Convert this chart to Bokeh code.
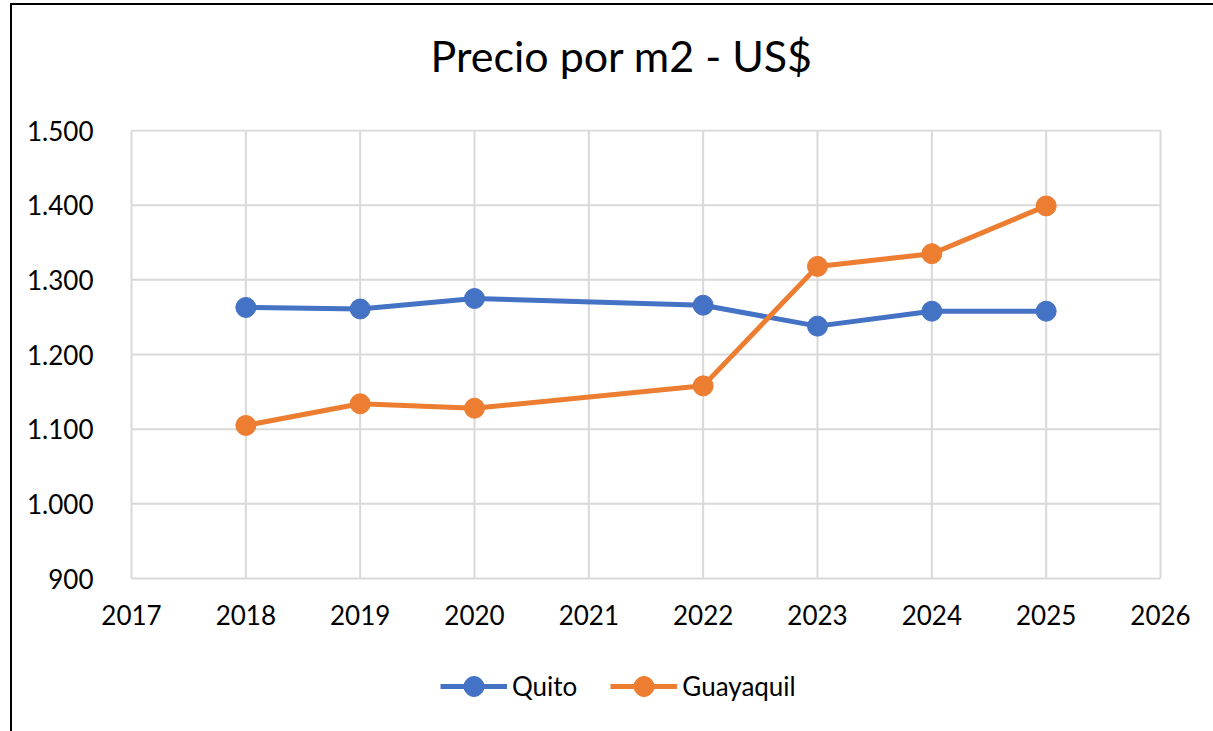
from bokeh.plotting import figure
from bokeh.models import (Range1d, Legend, LegendItem, CustomJSTickFormatter,
                          FixedTicker, Title)
from bokeh.embed import file_html
from bokeh.resources import INLINE

years = [2018, 2019, 2020, 2022, 2023, 2024, 2025]
quito = [1263, 1261, 1275, 1266, 1238, 1258, 1258]
guayaquil = [1105, 1134, 1128, 1158, 1318, 1335, 1399]
x_ticks = list(range(2017, 2027))
y_ticks = list(range(900, 1501, 100))
title_text = "Precio por m2 - US$"

BLUE = "#4472C4"
ORANGE = "#ED7D31"
GRID = "#D9D9D9"
FONT = "Lato"

X_MIN, X_MAX = 2017, 2026
Y_MIN, Y_MAX = 900, 1500

# layout (pixels)
PLOT_W, PLOT_H = 1029, 448        # size of the value area (2017-2026 x 900-1500)
PAD_L, PAD_R, PAD_T, PAD_B = 31, 35, 1, 153   # frame slack around the value area
ppx = PLOT_W / (X_MAX - X_MIN)
ppy = PLOT_H / (Y_MAX - Y_MIN)

p = figure(
    frame_width=PLOT_W + PAD_L + PAD_R, frame_height=PLOT_H + PAD_T + PAD_B,
    x_range=Range1d(X_MIN - PAD_L / ppx, X_MAX + PAD_R / ppx),
    y_range=Range1d(Y_MIN - PAD_B / ppy, Y_MAX + PAD_T / ppy),
    output_backend="svg", toolbar_location=None,
    min_border_left=88, min_border_right=18, min_border_top=124, min_border_bottom=0,
    title=None,
)
p.styles = {"border-left": "2px solid black", "border-top": "2px solid black",
            "margin-left": "10px", "margin-top": "3px"}

# spacer between frame and title (closest to the frame), then the title itself
spacer = Title(text=" ", text_font=FONT, text_font_size="10px", standoff=35)
p.add_layout(spacer, "above")
title = Title(text=title_text, text_font=FONT, text_font_size="43px",
              text_font_style="normal", text_color="#000000",
              align="left", offset=330, standoff=0)
p.add_layout(title, "above")

p.outline_line_color = None
p.xgrid.visible = False
p.ygrid.visible = False

for ax in (p.xaxis, p.yaxis):
    ax.axis_line_color = None
    ax.major_tick_line_color = None
    ax.minor_tick_line_color = None
    ax.major_label_text_font = FONT
    ax.major_label_text_font_size = "26px"
    ax.major_label_text_color = "#000000"

p.xaxis.ticker = FixedTicker(ticks=x_ticks)
p.xaxis.fixed_location = Y_MIN
p.yaxis.ticker = FixedTicker(ticks=y_ticks)
p.xaxis.major_label_standoff = 20
p.yaxis.major_label_standoff = 1
p.yaxis.formatter = CustomJSTickFormatter(code="""
const s = Math.round(tick).toString();
return s.length > 3 ? s.slice(0, -3) + '.' + s.slice(-3) : s;
""")

# gridlines limited to the value area
p.segment(x0=x_ticks, y0=[Y_MIN] * len(x_ticks), x1=x_ticks, y1=[Y_MAX] * len(x_ticks),
          line_color=GRID, line_width=2)
p.segment(x0=[X_MIN] * len(y_ticks), y0=y_ticks, x1=[X_MAX] * len(y_ticks), y1=y_ticks,
          line_color=GRID, line_width=2)

lq = p.line(years, quito, line_color=BLUE, line_width=5)
sq = p.scatter(years, quito, size=20, fill_color=BLUE, line_color=BLUE)
lg = p.line(years, guayaquil, line_color=ORANGE, line_width=5)
sg = p.scatter(years, guayaquil, size=20, fill_color=ORANGE, line_color=ORANGE)

legend = Legend(
    items=[LegendItem(label="Quito", renderers=[lq, sq]),
           LegendItem(label="Guayaquil", renderers=[lg, sg])],
    orientation="horizontal", location=(340, 20),
    label_text_font=FONT, label_text_font_size="26px", label_text_color="#000000",
    glyph_width=67, glyph_height=50, label_standoff=5, spacing=33, padding=0,
    border_line_color=None, background_fill_alpha=0, margin=0,
)
p.add_layout(legend, "center")

open("out.html", "w").write(file_html(p, INLINE))
